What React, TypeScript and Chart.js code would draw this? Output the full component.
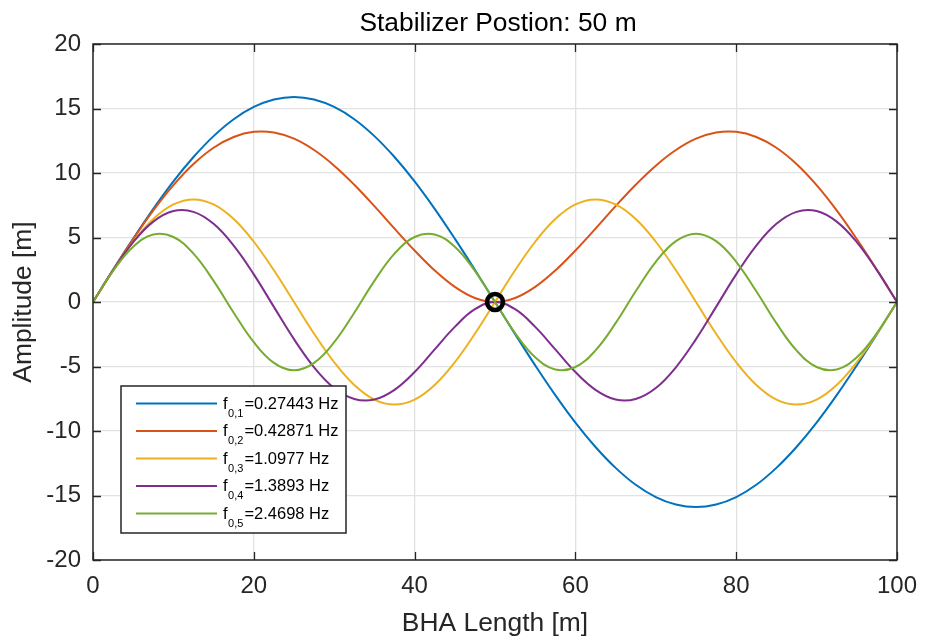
import React, { useEffect, useRef } from 'react';
import { Chart, registerables } from 'chart.js';

Chart.register(...registerables);

// BHA length positions [m]
const xs = [0, 2.5, 5, 7.5, 10, 12.5, 15, 17.5, 20, 22.5, 25, 27.5, 30, 32.5, 35, 37.5, 40, 42.5, 45, 47.5, 50,
  52.5, 55, 57.5, 60, 62.5, 65, 67.5, 70, 72.5, 75, 77.5, 80, 82.5, 85, 87.5, 90, 92.5, 95, 97.5, 100];

// Mode amplitudes [m]
const mode1 = [0, 2.49, 4.91, 7.22, 9.35, 11.24, 12.86, 14.17, 15.12, 15.70, 15.90, 15.70, 15.12, 14.17, 12.86, 11.24, 9.35, 7.22, 4.91, 2.49, 0,
  -2.49, -4.91, -7.22, -9.35, -11.24, -12.86, -14.17, -15.12, -15.70, -15.90, -15.70, -15.12, -14.17, -12.86, -11.24, -9.35, -7.22, -4.91, -2.49, 0];
const mode2 = [0, 2.49, 4.88, 7.10, 9.06, 10.70, 11.96, 12.79, 13.19, 13.14, 12.66, 11.78, 10.57, 9.09, 7.43, 5.69, 3.99, 2.44, 1.17, 0.31, 0,
  0.31, 1.17, 2.44, 3.99, 5.69, 7.43, 9.09, 10.57, 11.78, 12.66, 13.14, 13.19, 12.79, 11.96, 10.70, 9.06, 7.10, 4.88, 2.49, 0];
const mode3 = [0, 2.46, 4.67, 6.43, 7.56, 7.95, 7.56, 6.43, 4.67, 2.46, 0, -2.46, -4.67, -6.43, -7.56, -7.95, -7.56, -6.43, -4.67, -2.46, 0,
  2.46, 4.67, 6.43, 7.56, 7.95, 7.56, 6.43, 4.67, 2.46, 0, -2.46, -4.67, -6.43, -7.56, -7.95, -7.56, -6.43, -4.67, -2.46, 0];
const mode4 = [0, 2.47, 4.64, 6.23, 7.05, 6.99, 6.06, 4.37, 2.14, -0.38, -2.88, -5.06, -6.67, -7.52, -7.56, -6.81, -5.43, -3.67, -1.93, -0.56, 0,
  -0.56, -1.93, -3.67, -5.43, -6.81, -7.56, -7.52, -6.67, -5.06, -2.88, -0.38, 2.14, 4.37, 6.06, 6.99, 7.05, 6.23, 4.64, 2.47, 0];
const mode5 = [0, 2.41, 4.29, 5.23, 5.04, 3.75, 1.64, -0.83, -3.12, -4.72, -5.30, -4.72, -3.12, -0.83, 1.64, 3.75, 5.04, 5.23, 4.29, 2.41, 0,
  -2.41, -4.29, -5.23, -5.04, -3.75, -1.64, 0.83, 3.12, 4.72, 5.30, 4.72, 3.12, 0.83, -1.64, -3.75, -5.04, -5.23, -4.29, -2.41, 0];

const modes = [mode1, mode2, mode3, mode4, mode5];
const modeColors = ['#0072BD', '#D95319', '#EDB120', '#7E2F8E', '#77AC30'];
const legendSubs = ['0,1', '0,2', '0,3', '0,4', '0,5'];
const legendFreqs = ['0.27443', '0.42871', '1.0977', '1.3893', '2.4698'];

// Stabilizer marker
const stabX = [50];
const stabY = [0];

const titleText = 'Stabilizer Postion: 50 m';
const xLabel = 'BHA Length [m]';
const yLabel = 'Amplitude [m]';
const xTicks = [0, 20, 40, 60, 80, 100];
const yTicks = [-20, -15, -10, -5, 0, 5, 10, 15, 20];

const FONT = '"Liberation Sans", Arial, Helvetica, sans-serif';
const AXIS_COLOR = '#262626';

const framePlugin = {
  id: 'matlabFrame',
  afterDraw(chart: any) {
    const { ctx, chartArea: ca, scales } = chart;
    ctx.save();
    // inward tick marks
    ctx.strokeStyle = AXIS_COLOR;
    ctx.lineWidth = 1.3;
    const tl = 8;
    ctx.beginPath();
    xTicks.forEach((v) => {
      const px = Math.round(scales.x.getPixelForValue(v)) + 0.5;
      ctx.moveTo(px, ca.bottom); ctx.lineTo(px, ca.bottom - tl);
      ctx.moveTo(px, ca.top); ctx.lineTo(px, ca.top + tl);
    });
    yTicks.forEach((v) => {
      const py = Math.round(scales.y.getPixelForValue(v)) + 0.5;
      ctx.moveTo(ca.left, py); ctx.lineTo(ca.left + tl, py);
      ctx.moveTo(ca.right, py); ctx.lineTo(ca.right - tl, py);
    });
    ctx.stroke();
    // box
    ctx.lineWidth = 1.5;
    ctx.strokeRect(ca.left, ca.top, ca.right - ca.left, ca.bottom - ca.top);

    // title
    ctx.fillStyle = '#000';
    ctx.font = `26.4px ${FONT}`;
    ctx.textAlign = 'center';
    ctx.textBaseline = 'alphabetic';
    ctx.fillText(titleText, (ca.left + ca.right) / 2 + 3, 31);

    // legend
    const lx = ca.left + 28;
    const ly = ca.top + 342;
    const lw = 225;
    const lh = 147;
    ctx.fillStyle = '#ffffff';
    ctx.fillRect(lx, ly, lw, lh);
    ctx.strokeStyle = AXIS_COLOR;
    ctx.lineWidth = 1.5;
    ctx.strokeRect(lx, ly, lw, lh);
    legendSubs.forEach((sub, i) => {
      const y = ly + 17.5 + i * 27.5;
      ctx.strokeStyle = modeColors[i];
      ctx.lineWidth = 2;
      ctx.beginPath();
      ctx.moveTo(lx + 15, y);
      ctx.lineTo(lx + 96, y);
      ctx.stroke();
      ctx.fillStyle = '#000';
      ctx.textAlign = 'left';
      ctx.textBaseline = 'alphabetic';
      ctx.font = `16.5px ${FONT}`;
      let tx = lx + 102;
      ctx.fillText('f', tx, y + 5);
      tx += ctx.measureText('f').width + 0.5;
      ctx.font = `11px ${FONT}`;
      ctx.fillText(sub, tx, y + 13);
      tx += ctx.measureText(sub).width + 1;
      ctx.font = `16.5px ${FONT}`;
      ctx.fillText('=' + legendFreqs[i] + ' Hz', tx, y + 5);
    });
    ctx.restore();
  },
};

export default function App() {
  const canvasRef = useRef<HTMLCanvasElement | null>(null);

  useEffect(() => {
    document.body.style.margin = '0';
    const canvas = canvasRef.current;
    if (!canvas) return;

    const datasets: any[] = modes.map((m, i) => ({
      label: 'f' + legendSubs[i],
      data: xs.map((x, j) => ({ x, y: m[j] })),
      borderColor: modeColors[i],
      backgroundColor: modeColors[i],
      borderWidth: 2,
      pointRadius: 0,
      tension: 0.4,
      fill: false,
      order: 5 - i,
    }));
    datasets.push({
      label: 'stabilizer',
      data: stabX.map((x, j) => ({ x, y: stabY[j] })),
      showLine: false,
      pointRadius: 8,
      pointStyle: 'circle',
      pointBorderWidth: 4.5,
      pointBorderColor: '#000',
      pointBackgroundColor: 'rgba(0,0,0,0)',
      borderColor: '#000',
      order: 0,
    });

    const chart = new Chart(canvas, {
      type: 'line',
      data: { datasets },
      options: {
        animation: false,
        responsive: false,
        devicePixelRatio: 1,
        layout: { padding: { top: 44, right: 28, left: 0, bottom: 0 } },
        plugins: {
          legend: { display: false },
          title: { display: false },
          tooltip: { enabled: false },
        },
        scales: {
          x: {
            type: 'linear',
            min: 0,
            max: 100,
            afterBuildTicks: (s: any) => { s.ticks = xTicks.map((v) => ({ value: v })); },
            afterFit: (s: any) => { s.height = 80; s.paddingRight = 0; s.paddingLeft = 0; },
            grid: { color: '#e2e2e2', lineWidth: 1.3, drawTicks: false },
            border: { display: false },
            ticks: { color: AXIS_COLOR, font: { family: FONT, size: 24 }, padding: 12, maxRotation: 0 },
            title: { display: true, text: xLabel, color: AXIS_COLOR, font: { family: FONT, size: 26.4 }, padding: { top: 0, bottom: 0 } },
          },
          y: {
            type: 'linear',
            min: -20,
            max: 20,
            afterBuildTicks: (s: any) => { s.ticks = yTicks.map((v) => ({ value: v })); },
            afterFit: (s: any) => { s.width = 93; s.paddingTop = 0; s.paddingBottom = 0; },
            grid: { color: '#e2e2e2', lineWidth: 1.3, drawTicks: false },
            border: { display: false },
            ticks: { color: AXIS_COLOR, font: { family: FONT, size: 24 }, padding: 12 },
            title: { display: true, text: yLabel, color: AXIS_COLOR, font: { family: FONT, size: 26.4 }, padding: { top: 8, bottom: 0 } },
          },
        },
      },
      plugins: [framePlugin],
    } as any);

    return () => chart.destroy();
  }, []);

  return (
    <div style={{ width: 925, height: 640, background: '#fff' }}>
      <canvas ref={canvasRef} width={925} height={640} style={{ display: 'block', width: 925, height: 640 }} />
    </div>
  );
}
